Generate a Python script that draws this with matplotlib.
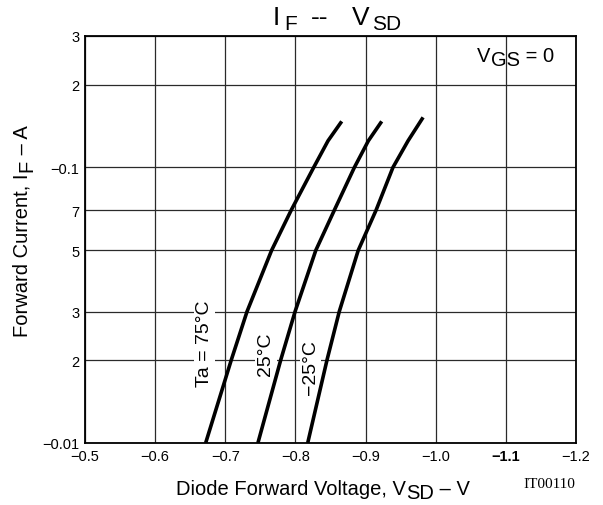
import matplotlib
matplotlib.use("Agg")
import matplotlib.pyplot as plt
from matplotlib.ticker import NullLocator
from matplotlib.transforms import IdentityTransform

plt.rcParams["font.family"] = ["Liberation Sans", "DejaVu Sans"]

# Forward current |I_F| (A) against source-drain voltage V_SD (V), V_GS = 0
i_75 = [0.01, 0.02, 0.03, 0.05, 0.07, 0.10, 0.125, 0.147]
v_75 = [-0.672, -0.7085, -0.731, -0.766, -0.794, -0.826, -0.8465, -0.866]

i_25 = [0.01, 0.02, 0.03, 0.05, 0.07, 0.10, 0.125, 0.147]
v_25 = [-0.7465, -0.779, -0.7995, -0.829, -0.8555, -0.884, -0.904, -0.923]

i_m25 = [0.01, 0.02, 0.03, 0.05, 0.07, 0.10, 0.125, 0.152]
v_m25 = [-0.8175, -0.845, -0.8625, -0.8895, -0.915, -0.939, -0.9606, -0.982]

x_ticks = [-0.5, -0.6, -0.7, -0.8, -0.9, -1.0, -1.1, -1.2]
x_tick_labels = ["\u22120.5", "\u22120.6", "\u22120.7", "\u22120.8",
                 "\u22120.9", "\u22121.0", "\u22121.1", "\u22121.2"]
y_ticks = [0.01, 0.02, 0.03, 0.05, 0.07, 0.1, 0.2, 0.3]
y_tick_labels = ["\u22120.01", "2", "3", "5", "7", "\u22120.1", "2", "3"]

W, H = 603, 506
fig = plt.figure(figsize=(W / 100, H / 100), dpi=100)
ax = fig.add_axes([85 / W, 62 / H, 491 / W, 407 / H])

ax.set_yscale("log")
ax.set_xlim(-0.5, -1.2)
ax.set_ylim(0.01, 0.3)
ax.set_xticks(x_ticks)
ax.set_xticklabels(x_tick_labels, fontsize=10.5)
ax.set_yticks(y_ticks)
ax.set_yticklabels(y_tick_labels, fontsize=10.5)
ax.yaxis.set_minor_locator(NullLocator())
ax.tick_params(length=0, pad=4)
ax.get_xticklabels()[6].set_fontweight("bold")

ax.set_axisbelow(True)
ax.grid(True, color="#2a2a2a", linewidth=0.9)
for sp in ax.spines.values():
    sp.set_linewidth(1.3)
    sp.set_color("black")

for v, i in [(v_75, i_75), (v_25, i_25), (v_m25, i_m25)]:
    ax.plot(v, i, color="black", linewidth=2.6, solid_capstyle="butt",
            solid_joinstyle="round", zorder=3)

box = dict(facecolor="white", edgecolor="none", pad=1.5)
ax.text(-0.670, 0.0231, "Ta = 75\u00b0C", rotation=90, ha="center",
        va="center", fontsize=14, bbox=box, zorder=2)
ax.text(-0.758, 0.0211, "25\u00b0C", rotation=90, ha="center",
        va="center", fontsize=14, bbox=box, zorder=2)
ax.text(-0.821, 0.0189, "\u221225\u00b0C", rotation=90, ha="center",
        va="center", fontsize=14, bbox=box, zorder=2)

renderer = fig.canvas.get_renderer()


def rich_text(x, y, pieces, align="left", rot=0):
    """Draw text pieces (text, size, gap_px, drop_px) one after another,
    starting at pixel (x, y) measured from the top-left of the image.
    drop_px lowers a piece below the baseline (subscripts)."""
    arts = []
    widths = []
    for s, size, gap, drop in pieces:
        t = fig.text(0, 0, s, fontsize=size, transform=IdentityTransform(),
                     ha="left", va="baseline", rotation=0,
                     rotation_mode="anchor")
        widths.append(gap + t.get_window_extent(renderer).width)
        arts.append(t)
    total = sum(widths)
    pos = -total / 2 if align == "center" else 0.0
    for t, w, (s, size, gap, drop) in zip(arts, widths, pieces):
        pos += gap
        if rot == 0:
            t.set_position((x + pos, H - y - drop))
        else:
            t.set_position((x + drop, H - y + pos))
            t.set_rotation(rot)
        pos += w - gap


rich_text(273, 25, [("I", 19, 0, 0), ("F", 15, 4, 5), ("--", 19, 14, 0),
                    ("V", 19, 23, 0), ("SD", 15, 3, 5)])
rich_text(323, 495, [("Diode Forward Voltage, V", 14.5, 0, 0),
                     ("SD", 14.5, 1, 4), (" \u2013 V", 14.5, 0, 0)],
          align="center")
rich_text(28, 231, [("Forward Current, I", 14.5, 0, 0),
                    ("F", 14.5, 1, 4), (" \u2013 A", 14.5, 0, 0)],
          align="center", rot=90)
rich_text(477, 62, [("V", 14.5, 0, 0), ("GS", 14.5, 1, 4),
                    (" = 0", 14.5, 0, 0)])

fig.text(549 / W, 1 - 488 / H, "IT00110", family="Liberation Serif",
         fontsize=11, ha="center", va="baseline")

fig.savefig("out.png", dpi=100)
